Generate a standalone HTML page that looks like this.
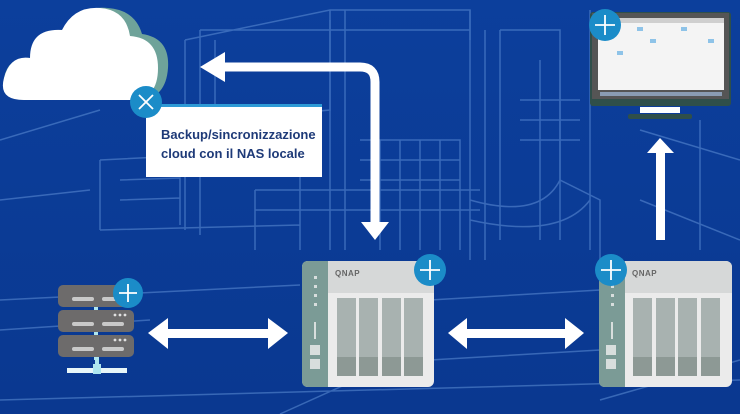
<!DOCTYPE html>
<html><head><meta charset="utf-8"><style>
html,body{margin:0;padding:0;background:#0b3d98;}
svg{display:block}
</style></head><body>
<svg width="740" height="414" viewBox="0 0 740 414" xmlns="http://www.w3.org/2000/svg" font-family="Liberation Sans, sans-serif">
<defs>
<linearGradient id="bg" x1="0" y1="0" x2="0" y2="1"><stop offset="0" stop-color="#0c3f9c"/><stop offset="1" stop-color="#0a3890"/></linearGradient>
</defs>
<rect width="740" height="414" fill="url(#bg)"/>
<!-- building wireframe -->
<g stroke="#5f8fd6" stroke-width="1.5" fill="none" opacity="0.55">
<path d="M185 40 L185 230 M200 30 L200 235 M185 40 L330 10 L470 10 L470 40 M200 30 L470 30"/>
<path d="M215 40 L215 120 L330 110 L330 20"/>
<path d="M330 10 L330 250 M345 10 L345 250 M470 10 L470 260 M485 30 L485 260"/>
<path d="M100 160 L300 150 L300 250 M100 160 L100 230 M100 230 L300 225"/>
<path d="M120 180 L180 178 L180 225 M120 200 L180 198"/>
<path d="M500 30 L560 30 L560 180 L600 200 L600 260 M500 30 L500 240"/>
<path d="M255 190 L480 190 M255 210 L480 210 M255 190 L255 250"/>
<path d="M470 200 Q540 220 560 180 M470 220 Q560 240 590 200"/>
<path d="M590 10 L590 250 M700 120 L700 250"/>
<path d="M0 300 L300 285 M0 330 L150 320 M430 300 L600 290 M430 360 L600 350 M0 400 L740 380 M280 414 L400 360 M600 400 L740 360"/>
<path d="M360 140 L460 140 L460 250 M360 160 L460 160 M360 180 L460 180 M380 140 L380 250 M400 140 L400 250 M420 140 L420 250 M440 140 L440 250"/>
<path d="M520 100 L580 100 M520 120 L580 120 M520 140 L580 140 M540 60 L540 240 M560 60 L560 240"/>
<path d="M0 140 L100 110 M0 200 L90 190 M640 130 L740 160 M640 200 L740 240"/>
</g>
<!-- cloud -->
<g>
<path d="M28 100 Q0 100 4 78 Q8 56 32 58 Q34 28 66 30 Q78 5 108 8 Q135 10 142 34 Q170 38 168 68 Q166 98 140 100 Z" fill="#6fa39a"/>
<path d="M24 100 Q-2 100 4 78 Q10 55 30 58 Q30 28 62 30 Q74 6 100 8 Q126 10 130 36 Q158 38 158 68 Q158 100 130 100 Z" fill="#ffffff"/>
</g>
<!-- textbox -->
<rect x="146" y="104" width="176" height="73" fill="#ffffff"/>
<rect x="146" y="104" width="176" height="3" fill="#2d9ad6"/>
<text x="161" y="139" font-size="13" font-weight="bold" fill="#1e3a78">Backup/sincronizzazione</text>
<text x="161" y="158" font-size="13" font-weight="bold" fill="#1e3a78">cloud con il NAS locale</text>
<circle cx="146" cy="102" r="16" fill="#1b8cc8"/>
<path d="M139 95 L153 109 M153 95 L139 109" stroke="#fff" stroke-width="1.8"/>
<!-- top bent arrow -->
<path d="M222 67 L360 67 Q375 67 375 82 L375 222" stroke="#fff" stroke-width="9" fill="none"/>
<polygon points="200,67 225,52 225,82" fill="#fff"/>
<polygon points="361,222 389,222 375,240" fill="#fff"/>
<!-- left double arrow -->
<rect x="165" y="329" width="105" height="9" fill="#fff"/>
<polygon points="148,333 168,318 168,349" fill="#fff"/>
<polygon points="288,333 268,318 268,349" fill="#fff"/>
<!-- middle double arrow -->
<rect x="465" y="329" width="102" height="9" fill="#fff"/>
<polygon points="448,333 467,318 467,349" fill="#fff"/>
<polygon points="584,333 565,318 565,349" fill="#fff"/>
<!-- up arrow -->
<rect x="656" y="152" width="9" height="88" fill="#fff"/>
<polygon points="647,153 674,153 660,138" fill="#fff"/>
<!-- server -->
<g>
<rect x="94" y="300" width="4" height="60" fill="#aee6ef"/>
<rect x="95" y="357" width="4" height="13" fill="#aee6ef"/>
<rect x="67" y="368" width="60" height="5" fill="#e8f6f8"/>
<rect x="93" y="364" width="8" height="10" fill="#aee6ef"/>
<rect x="58" y="285" width="76" height="22" rx="5" fill="#6d6b6b"/>
<rect x="58" y="310" width="76" height="22" rx="5" fill="#6d6b6b"/>
<rect x="58" y="335" width="76" height="22" rx="5" fill="#6d6b6b"/>
<g fill="#c9c9c9"><rect x="72" y="297" width="22" height="4" rx="2"/><rect x="102" y="297" width="22" height="4" rx="2"/>
<rect x="72" y="322" width="22" height="4" rx="2"/><rect x="102" y="322" width="22" height="4" rx="2"/>
<rect x="72" y="347" width="22" height="4" rx="2"/><rect x="102" y="347" width="22" height="4" rx="2"/></g>
<g fill="#e0e0e0"><circle cx="115" cy="315" r="1.4"/><circle cx="120" cy="315" r="1.4"/><circle cx="125" cy="315" r="1.4"/>
<circle cx="115" cy="340" r="1.4"/><circle cx="120" cy="340" r="1.4"/><circle cx="125" cy="340" r="1.4"/></g>
<circle cx="128" cy="293" r="15" fill="#1b8cc8"/>
<path d="M119 293 L137 293 M128 284 L128 302" stroke="#fff" stroke-width="1.8"/>
</g>
<!-- NAS 1 -->
<g>
<rect x="302" y="261" width="132" height="126" rx="6" fill="#ebebeb"/>
<rect x="302" y="261" width="132" height="32" rx="6" fill="#d6d8d8"/>
<rect x="328" y="285" width="106" height="8" fill="#d6d8d8"/>
<path d="M308 261 L328 261 L328 387 L308 387 Q302 387 302 381 L302 267 Q302 261 308 261 Z" fill="#7b9b96"/>
<g fill="#d8dedd"><rect x="314" y="276" width="3" height="3"/><rect x="314" y="285" width="3" height="3"/><rect x="314" y="294" width="3" height="3"/><rect x="314" y="303" width="3" height="3"/>
<rect x="310" y="345" width="10" height="10"/><rect x="310" y="359" width="10" height="10"/></g>
<rect x="314" y="322" width="2" height="17" fill="#d8dedd"/>
<text x="335" y="276" font-size="8" font-weight="bold" fill="#666" letter-spacing="0.5">QNAP</text>
<g fill="#a8b2b0"><rect x="337" y="298" width="19" height="60"/><rect x="359" y="298" width="19" height="60"/><rect x="382" y="298" width="19" height="60"/><rect x="404" y="298" width="19" height="60"/></g>
<g fill="#8d9995"><rect x="337" y="357" width="19" height="19"/><rect x="359" y="357" width="19" height="19"/><rect x="382" y="357" width="19" height="19"/><rect x="404" y="357" width="19" height="19"/></g>
<circle cx="430" cy="270" r="16" fill="#1b8cc8"/>
<path d="M420 270 L440 270 M430 260 L430 280" stroke="#fff" stroke-width="1.8"/>
</g>
<!-- NAS 2 -->
<g>
<rect x="599" y="261" width="133" height="126" rx="6" fill="#ebebeb"/>
<rect x="599" y="261" width="133" height="32" rx="6" fill="#d6d8d8"/>
<rect x="625" y="285" width="107" height="8" fill="#d6d8d8"/>
<path d="M605 261 L625 261 L625 387 L605 387 Q599 387 599 381 L599 267 Q599 261 605 261 Z" fill="#7b9b96"/>
<g fill="#d8dedd"><rect x="611" y="285" width="3" height="3"/><rect x="611" y="294" width="3" height="3"/><rect x="611" y="303" width="3" height="3"/>
<rect x="606" y="345" width="10" height="10"/><rect x="606" y="359" width="10" height="10"/></g>
<rect x="611" y="322" width="2" height="17" fill="#d8dedd"/>
<text x="632" y="276" font-size="8" font-weight="bold" fill="#666" letter-spacing="0.5">QNAP</text>
<g fill="#a8b2b0"><rect x="633" y="298" width="19" height="60"/><rect x="656" y="298" width="19" height="60"/><rect x="678" y="298" width="19" height="60"/><rect x="701" y="298" width="19" height="60"/></g>
<g fill="#8d9995"><rect x="633" y="357" width="19" height="19"/><rect x="656" y="357" width="19" height="19"/><rect x="678" y="357" width="19" height="19"/><rect x="701" y="357" width="19" height="19"/></g>
<circle cx="611" cy="270" r="16" fill="#1b8cc8"/>
<path d="M601 270 L621 270 M611 260 L611 280" stroke="#fff" stroke-width="1.8"/>
</g>
<!-- monitor -->
<g>
<rect x="590" y="12" width="141" height="94" rx="3" fill="#2f4f4a"/>
<rect x="592" y="13" width="137" height="86" fill="#555"/>
<rect x="598" y="18" width="126" height="72" fill="#f4f4f4"/>
<rect x="598" y="18" width="126" height="5" fill="#cfcfcf"/>
<g fill="#8ec3e8"><rect x="637" y="27" width="6" height="4"/><rect x="681" y="27" width="6" height="4"/><rect x="650" y="39" width="6" height="4"/><rect x="617" y="51" width="6" height="4"/><rect x="708" y="39" width="6" height="4"/></g>
<rect x="600" y="92" width="122" height="4" fill="#8a9cb3"/>
<rect x="640" y="107" width="40" height="6" fill="#ffffff"/>
<rect x="628" y="114" width="64" height="5" rx="2" fill="#2f4f4a"/>
<circle cx="605" cy="25" r="16" fill="#1b8cc8"/>
<path d="M595 25 L615 25 M605 15 L605 35" stroke="#fff" stroke-width="1.8"/>
</g>
</svg>
</body></html>
